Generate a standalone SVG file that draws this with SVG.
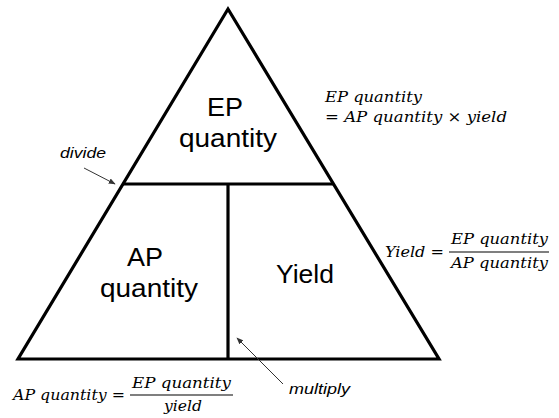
<svg xmlns="http://www.w3.org/2000/svg" width="559" height="418" viewBox="0 0 559 418">
  <style>
    .frame { fill: none; stroke: #000; stroke-width: 3.2; stroke-linejoin: miter; stroke-linecap: butt; }
    .lbl { font-family: "Liberation Sans", Arial, sans-serif; font-size: 25px; fill: #000; }
    .note { font-family: "Liberation Sans", Arial, sans-serif; font-size: 15px; font-style: italic; fill: #000; }
    .math { font-family: "DejaVu Serif", "Liberation Serif", serif; font-size: 15px; font-style: italic; fill: #000; }
    .bar { stroke: #000; stroke-width: 1.2; }
    .arrow { stroke: #333; stroke-width: 1; fill: none; marker-end: url(#ah); }
  </style>
  <defs>
    <marker id="ah" viewBox="0 0 10 10" refX="9" refY="5" markerWidth="7" markerHeight="7" markerUnits="userSpaceOnUse" orient="auto">
      <path d="M0,1 L10,5 L0,9 Z" fill="#333"/>
    </marker>
  </defs>

  <rect width="559" height="418" fill="#fff"/>

  <g id="triangle">
    <polygon class="frame" points="228,9 18,359 439,359"/>
    <line class="frame" x1="123" y1="184" x2="334" y2="184"/>
    <line class="frame" x1="228" y1="184" x2="228" y2="359"/>
  </g>

  <g id="node-ep">
    <text class="lbl" x="207" y="116" textLength="36" lengthAdjust="spacingAndGlyphs">EP</text>
    <text class="lbl" x="179" y="147" textLength="98" lengthAdjust="spacingAndGlyphs">quantity</text>
  </g>

  <g id="node-ap">
    <text class="lbl" x="127" y="266" textLength="36" lengthAdjust="spacingAndGlyphs">AP</text>
    <text class="lbl" x="100" y="297" textLength="98" lengthAdjust="spacingAndGlyphs">quantity</text>
  </g>

  <g id="node-yield">
    <text class="lbl" x="276" y="283" textLength="58" lengthAdjust="spacingAndGlyphs">Yield</text>
  </g>

  <g id="connectors">
    <line class="arrow" x1="84" y1="168" x2="115" y2="184"/>
    <line class="arrow" x1="283" y1="384" x2="237" y2="338"/>
  </g>

  <g id="annotations">
    <text class="note" x="60" y="158" textLength="46" lengthAdjust="spacingAndGlyphs">divide</text>
    <text class="note" x="289" y="394" textLength="61" lengthAdjust="spacingAndGlyphs">multiply</text>
  </g>

  <g id="formula-ep">
    <text class="math" x="325" y="102" textLength="97" lengthAdjust="spacingAndGlyphs">EP quantity</text>
    <text class="math" x="325" y="122" textLength="182" lengthAdjust="spacingAndGlyphs">= AP quantity  × yield</text>
  </g>

  <g id="formula-yield">
    <text class="math" x="385" y="257" textLength="59" lengthAdjust="spacingAndGlyphs">Yield =</text>
    <text class="math" x="451" y="244" textLength="97" lengthAdjust="spacingAndGlyphs">EP quantity</text>
    <line class="bar" x1="449" y1="252" x2="549" y2="252"/>
    <text class="math" x="451" y="268" textLength="97" lengthAdjust="spacingAndGlyphs">AP quantity</text>
  </g>

  <g id="formula-ap">
    <text class="math" x="13" y="400" textLength="112" lengthAdjust="spacingAndGlyphs">AP quantity =</text>
    <text class="math" x="132" y="388" textLength="99" lengthAdjust="spacingAndGlyphs">EP quantity</text>
    <line class="bar" x1="130" y1="395" x2="233" y2="395"/>
    <text class="math" x="164" y="411" textLength="38" lengthAdjust="spacingAndGlyphs">yield</text>
  </g>
</svg>
